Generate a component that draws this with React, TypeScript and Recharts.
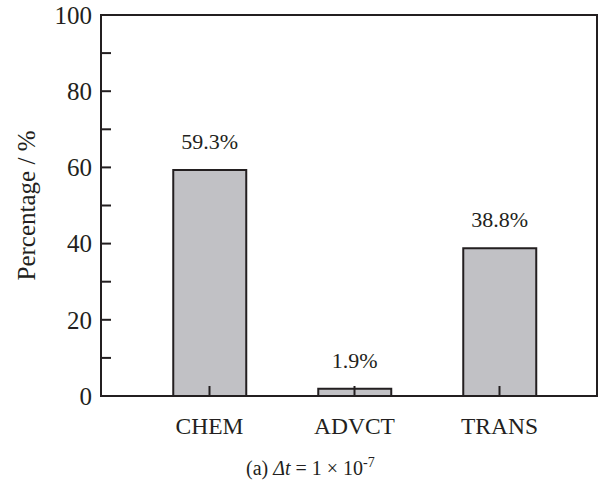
import { BarChart, Bar, XAxis, YAxis, LabelList, useOffset, useChartWidth, useChartHeight } from 'recharts';

const categories = ['CHEM', 'ADVCT', 'TRANS'];
const percentages = [59.3, 1.9, 38.8];
const yTicks = [0, 10, 20, 30, 40, 50, 60, 70, 80, 90, 100];

const data = categories.map((name, i) => ({ name, value: percentages[i] }));

const INK = '#231f20';
const FONT = '"Liberation Serif", "Times New Roman", serif';

const YLabel = (props: any) => {
  const { viewBox } = props;
  const cx = viewBox.x - 15;
  const cy = viewBox.y + viewBox.height / 2;
  return (
    <text
      x={cx}
      y={cy}
      transform={`rotate(-90 ${cx} ${cy})`}
      textAnchor="middle"
      dominantBaseline="central"
      fontFamily={FONT}
      fontSize={25}
      fill={INK}
    >
      Percentage / %
    </text>
  );
};

// value over each bar
const ValueLabel = (props: any) => {
  const { x, y, width, value } = props;
  return (
    <text x={x + width / 2} y={y - 21} textAnchor="middle" fontFamily={FONT} fontSize={22} fill={INK}>
      {`${value}%`}
    </text>
  );
};

// box around the plot area
const Frame = () => {
  const off = useOffset();
  const w = useChartWidth();
  const h = useChartHeight();
  if (!off || !w || !h) return null;
  return (
    <rect
      x={off.left}
      y={off.top}
      width={w - off.left - off.right}
      height={h - off.top - off.bottom}
      fill="none"
      stroke={INK}
      strokeWidth={2}
    />
  );
};

export default function App() {
  return (
    <div style={{ position: 'absolute', left: 0, top: 0, width: 614, height: 481, background: '#fff' }}>
      <BarChart
        width={614}
        height={481}
        data={data}
        margin={{ top: 15, right: 17, bottom: 45, left: 41 }}
        barCategoryGap="25%"
      >
        <Bar dataKey="value" fill="#c1c1c5" stroke={INK} strokeWidth={2} isAnimationActive={false}>
          <LabelList dataKey="value" content={<ValueLabel />} />
        </Bar>
        <XAxis
          dataKey="name"
          padding={{ left: 36, right: 25 }}
          height={40}
          tickSize={-10}
          tickMargin={31}
          axisLine={false}
          tickLine={{ stroke: INK, strokeWidth: 2 }}
          tick={{ fontFamily: FONT, fontSize: 23.5, fill: INK }}
        />
        <YAxis
          domain={[0, 100]}
          ticks={yTicks}
          interval={0}
          width={60}
          tickSize={-10}
          tickMargin={19}
          tickFormatter={(v: number) => (v % 20 === 0 ? String(v) : '')}
          axisLine={false}
          tickLine={{ stroke: INK, strokeWidth: 2 }}
          tick={{ fontFamily: FONT, fontSize: 25, fill: INK }}
          label={<YLabel />}
        />
        <Frame />
      </BarChart>
      <div
        style={{
          position: 'absolute',
          left: 246,
          top: 451,
          fontFamily: FONT,
          fontSize: 20,
          color: INK,
          whiteSpace: 'nowrap',
          lineHeight: '23px',
        }}
      >
        (a) <i>Δt</i> = 1 × 10<sup style={{ fontSize: 14 }}>-7</sup>
      </div>
    </div>
  );
}
